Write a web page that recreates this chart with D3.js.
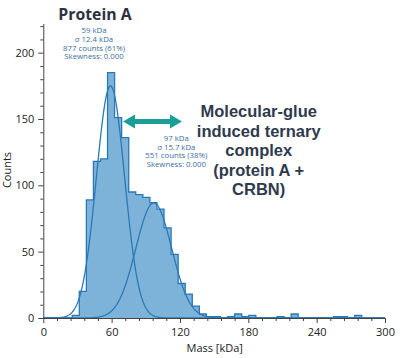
<!DOCTYPE html>
<html>
<head>
<meta charset="utf-8">
<script src="https://cdn.jsdelivr.net/npm/d3@7/dist/d3.min.js"></script>
<style>
  html, body { margin: 0; padding: 0; background: #fff; }
  svg { display: block; }
</style>
</head>
<body>
<svg id="chart" width="400" height="358"></svg>
<script>
// ---- data ----
const binStart = 19.2;          // kDa, left edge of first bin
const binWidth = 6.2;           // kDa
const binCounts = [0, 2, 20, 89, 118, 120, 185, 151, 136, 95, 93, 91, 87, 82, 68, 48, 26, 18, 9, 3, 1, 1, 0, 1, 3, 1, 2, 0, 0, 0, 1, 0, 3, 0, 0, 0, 0, 0, 1, 1, 0, 2];
const fitNames = ["Protein A", "Ternary complex"];
const fitMeans = [59, 97];       // kDa
const fitSigmas = [12.4, 15.7];  // kDa
const fitCounts = [877, 551];
const fitLabels = [
  ["59 kDa", "σ 12.4 kDa", "877 counts (61%)", "Skewness: 0.000"],
  ["97 kDa", "σ 15.7 kDa", "551 counts (38%)", "Skewness: 0.000"]
];
const xMajorTicks = [0, 60, 120, 180, 240, 300];
const yMajorTicks = [0, 50, 100, 150, 200];
const titleText = "Protein A";
const complexText = ["Molecular-glue", "induced ternary", "complex", "(protein A +", "CRBN)"];
const xTitle = "Mass [kDa]";
const yTitle = "Counts";

// ---- layout ----
const svg = d3.select("#chart");
const x = d3.scaleLinear().domain([0, 300]).range([43.3, 385]);
const y = d3.scaleLinear().domain([0, 222]).range([318, 23.5]);

const fillCol = "#7db3d9";
const lineCol = "#2a79b6";
const axisCol = "#444";
const annCol = "#3a6f9c";

// histogram points for step curves
const pts = [[0, 0], [binStart, 0]];
binCounts.forEach((c, i) => pts.push([binStart + i * binWidth, c]));
pts.push([binStart + binCounts.length * binWidth, 0]);

const area = d3.area()
  .x(d => x(d[0])).y0(y(0)).y1(d => y(d[1]))
  .curve(d3.curveStepAfter);
const line = d3.line()
  .x(d => x(d[0])).y(d => y(d[1]))
  .curve(d3.curveStepAfter);

svg.append("path").attr("d", area(pts)).attr("fill", fillCol);
svg.append("path").attr("d", line(pts)).attr("fill", "none")
  .attr("stroke", lineCol).attr("stroke-width", 1.3);

// gaussian fits
const xs = d3.range(0, 300.01, 0.5);
fitMeans.forEach((m, i) => {
  const s = fitSigmas[i], n = fitCounts[i];
  const amp = n * binWidth / (s * Math.sqrt(2 * Math.PI));
  const g = xs.map(v => [v, amp * Math.exp(-0.5 * ((v - m) / s) ** 2)]);
  svg.append("path")
    .attr("d", d3.line().x(d => x(d[0])).y(d => y(d[1])).curve(d3.curveLinear)(g))
    .attr("fill", "none").attr("stroke", lineCol).attr("stroke-width", 1.3);
});

// axes
const fontAxis = "'Open Sans', 'Noto Sans', sans-serif";
function styleAxis(g) {
  g.select(".domain").attr("stroke", axisCol).attr("stroke-width", 1);
  g.selectAll(".tick line").attr("stroke", axisCol);
  g.selectAll(".tick text").attr("fill", "#222").attr("font-family", fontAxis).attr("font-size", 11);
}
const xMinor = d3.range(0, 301, 12).filter(v => v % 60 !== 0);
const yMinor = d3.range(0, 221, 10).filter(v => v % 50 !== 0);

svg.append("g").attr("transform", `translate(0,${y(0)})`)
  .call(d3.axisBottom(x).tickValues(xMinor).tickSize(3).tickFormat("").tickSizeOuter(0))
  .call(g => { g.select(".domain").remove(); g.selectAll(".tick line").attr("stroke", axisCol); });
svg.append("g").attr("transform", `translate(${x(0)},0)`)
  .call(d3.axisLeft(y).tickValues(yMinor).tickSize(3).tickFormat("").tickSizeOuter(0))
  .call(g => { g.select(".domain").remove(); g.selectAll(".tick line").attr("stroke", axisCol); });

svg.append("g").attr("transform", `translate(0,${y(0)})`)
  .call(d3.axisBottom(x).tickValues(xMajorTicks).tickSize(5).tickSizeOuter(0).tickPadding(5))
  .call(styleAxis);
svg.append("g").attr("transform", `translate(${x(0)},0)`)
  .call(d3.axisLeft(y).tickValues(yMajorTicks).tickSize(5).tickSizeOuter(0).tickPadding(4))
  .call(styleAxis);

// axis titles
svg.append("text").attr("x", 214.7).attr("y", 352).attr("text-anchor", "middle")
  .attr("font-family", fontAxis).attr("font-size", 11).attr("fill", "#222").text(xTitle);
svg.append("text").attr("transform", "translate(11,170) rotate(-90)").attr("text-anchor", "middle")
  .attr("font-family", fontAxis).attr("font-size", 11).attr("fill", "#222").text(yTitle);

// title
svg.append("text").attr("x", 95).attr("y", 19.5).attr("text-anchor", "middle")
  .attr("font-family", fontAxis).attr("font-weight", 700).attr("font-size", 15.8)
  .attr("fill", "#2b3240").text(titleText);

// fit annotations
const annPos = [[94, 33], [176.3, 140.7]];
fitLabels.forEach((lines, i) => {
  const t = svg.append("text").attr("text-anchor", "middle")
    .attr("font-family", fontAxis).attr("font-size", 7.8).attr("fill", annCol);
  lines.forEach((s, j) => t.append("tspan").attr("x", annPos[i][0])
    .attr("y", annPos[i][1] + j * 8.8).text(s));
});

// double arrow
const ay = 121.5, ax0 = 123, ax1 = 182, hl = 12, hh = 7, sh = 2.6;
svg.append("path")
  .attr("d", `M${ax0},${ay} L${ax0 + hl},${ay - hh} L${ax0 + hl},${ay - sh} L${ax1 - hl},${ay - sh} L${ax1 - hl},${ay - hh} L${ax1},${ay} L${ax1 - hl},${ay + hh} L${ax1 - hl},${ay + sh} L${ax0 + hl},${ay + sh} L${ax0 + hl},${ay + hh} Z`)
  .attr("fill", "#1a9f96");

// complex text
const ct = svg.append("text").attr("text-anchor", "middle")
  .attr("font-family", "'Liberation Sans', Arial, sans-serif").attr("font-weight", 700)
  .attr("font-size", 16.5).attr("fill", "#2f3a4e");
complexText.forEach((s, j) => ct.append("tspan").attr("x", 258.7).attr("y", 117.3 + j * 19.4).text(s));
</script>
</body>
</html>
